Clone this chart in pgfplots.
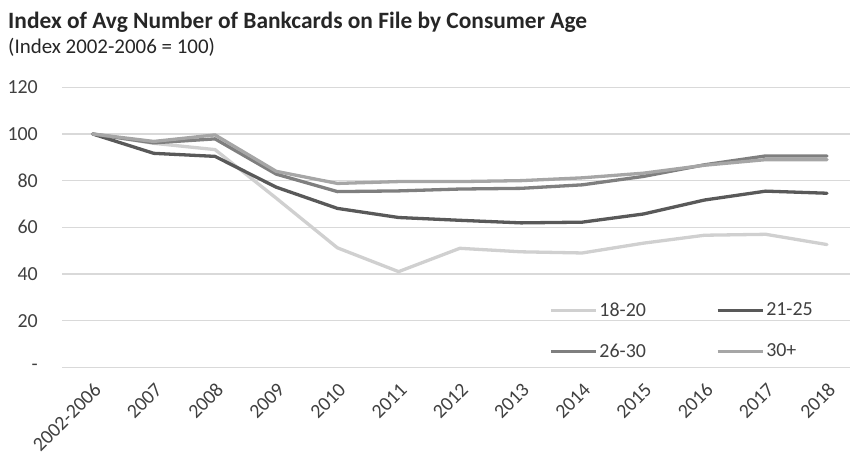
\documentclass[border=0pt]{standalone}
\usepackage{pgfplots}
\pgfplotsset{compat=1.18}
\usepackage{fontspec}
\setmainfont{Carlito}
\definecolor{cA}{HTML}{D0D0D0}
\definecolor{cB}{HTML}{595959}
\definecolor{cC}{HTML}{7F7F7F}
\definecolor{cD}{HTML}{A6A6A6}
\definecolor{gridc}{HTML}{D9D9D9}
\definecolor{tickc}{HTML}{404040}
\definecolor{titlec}{HTML}{262626}
\begin{document}
\begin{tikzpicture}
\useasboundingbox (0bp,0bp) rectangle (850bp,-458bp);
\node[anchor=base west, inner sep=0pt, font=\bfseries\fontsize{23.5}{27}\selectfont, text=titlec] at (8bp,-28bp) {Index of Avg Number of Bankcards on File by Consumer Age};
\node[anchor=base west, inner sep=0pt, font=\fontsize{21}{25}\selectfont, text=titlec] at (8bp,-53.5bp) {(Index 2002-2006 = 100)};
\begin{axis}[
  at={(62bp,-367.3bp)}, anchor=south west,
  scale only axis, width=788bp, height=280bp,
  xmin=-0.5, xmax=12.376, ymin=0, ymax=120,
  axis line style={draw=none},
  major tick length=0pt,
  xtick={0,1,2,3,4,5,6,7,8,9,10,11,12},
  xticklabels={2002-2006,2007,2008,2009,2010,2011,2012,2013,2014,2015,2016,2017,2018},
  ytick={0,20,40,60,80,100,120},
  yticklabels={{-\hspace{11bp}},20,40,60,80,100,120},
  ymajorgrids, grid style={color=gridc, line width=1.3bp},
  tick label style={font=\fontsize{20}{24}\selectfont, text=tickc},
  xticklabel style={xshift=5bp, rotate=45, anchor=east, inner sep=0pt},
  xticklabel shift=19bp,
  yticklabel style={anchor=east, inner sep=0pt},
  yticklabel shift=24bp,
  every axis plot/.append style={line width=3.3bp, line join=round, line cap=round},
  legend columns=2,
  legend cell align=left,
  legend image code/.code={\draw[#1, line cap=butt] (0bp,0bp) -- (45bp,0bp);},
  legend style={draw=none, fill=none, inner sep=0pt, at={(rel axis cs:0.618,0.131)}, anchor=west,
    font=\fontsize{20}{24}\selectfont, text=tickc,
    /tikz/every even column/.append style={column sep=68bp}, row sep=22bp},
]
\addplot[color=cA] coordinates {(0,100) (1,96.0) (2,93.3) (3,72.5) (4,51.2) (5,41.0) (6,51.0) (7,49.5) (8,49.0) (9,53.2) (10,56.6) (11,57.0) (12,52.6)};
\addlegendentry{18-20}
\addplot[color=cB] coordinates {(0,100) (1,91.7) (2,90.4) (3,77.2) (4,68.1) (5,64.2) (6,63.0) (7,61.9) (8,62.2) (9,65.7) (10,71.7) (11,75.5) (12,74.6)};
\addlegendentry{21-25}
\addplot[color=cC] coordinates {(0,100) (1,96.2) (2,97.9) (3,82.8) (4,75.3) (5,75.6) (6,76.4) (7,76.7) (8,78.2) (9,81.8) (10,86.8) (11,90.6) (12,90.6)};
\addlegendentry{26-30}
\addplot[color=cD] coordinates {(0,100) (1,96.8) (2,99.6) (3,84.0) (4,78.8) (5,79.6) (6,79.6) (7,80.0) (8,81.2) (9,83.2) (10,86.6) (11,89.0) (12,89.0)};
\addlegendentry{30+}
\end{axis}
\end{tikzpicture}
\end{document}
